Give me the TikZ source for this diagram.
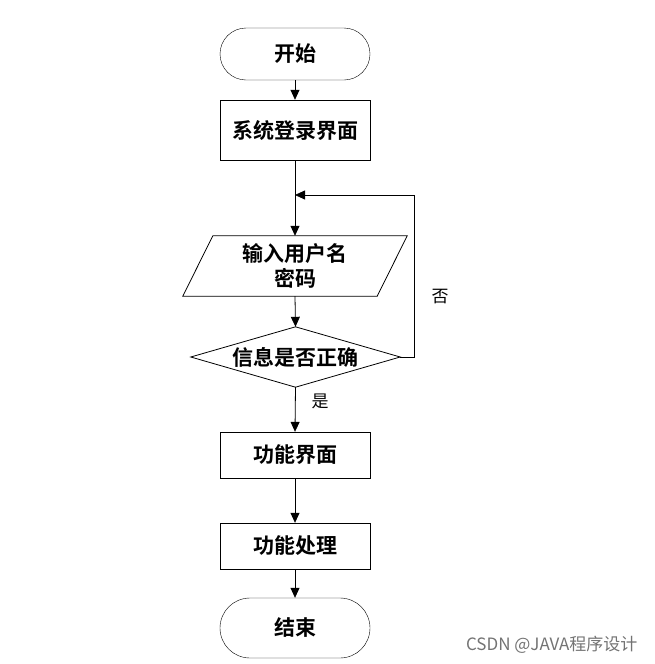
\documentclass[tikz,border=0pt]{standalone}
\usepackage{fontspec}
\setmainfont{Liberation Serif}
\newfontfamily\cjk{Noto Sans CJK SC}
\newfontfamily\cjkb{Noto Sans CJK SC Bold}
\usetikzlibrary{arrows.meta}
\begin{document}
\begin{tikzpicture}[x=1pt,y=-1pt,
  lbl/.style={font=\cjkb\fontsize{21}{25}\selectfont, align=center},
  term/.style={draw, rounded corners=26pt, minimum width=150pt, minimum height=52pt, lbl},
  proc/.style={draw, minimum width=150pt, lbl},
  line/.style={line width=0.8pt},
  arr/.style={line, -{Triangle[length=10pt,width=9pt]}},
  small/.style={font=\cjk\fontsize{17}{20}\selectfont}]
\useasboundingbox (0,0) rectangle (654,664);
\node[term] (start) at (295,54) {开始};
\node[proc, minimum height=60pt] (login) at (295,130) {系统登录界面};
\node[lbl, minimum width=194pt, minimum height=60pt, inner sep=0pt] (io) at (295,266) {输入用户名\\密码};
\draw[line] ([xshift=15pt]io.north west) -- ([xshift=15pt]io.north east) -- ([xshift=-15pt]io.south east) -- ([xshift=-15pt]io.south west) -- cycle;
\node[lbl, minimum width=209pt, minimum height=60pt, inner sep=0pt] (dia) at (295.5,357) {信息是否正确};
\draw[line] (dia.north) -- (dia.east) -- (dia.south) -- (dia.west) -- cycle;
\node[proc, minimum height=46pt] (func) at (295,455) {功能界面};
\node[proc, minimum height=46pt] (proc2) at (295,546) {功能处理};
\node[term, minimum height=60pt, rounded corners=30pt] (stop) at (295,628) {结束};
\coordinate (m) at (295,195);
\coordinate (r) at (414,195);
\draw[arr] (start) -- (login);
\draw[arr] (login.south) -- (io.north);
\draw[arr] (io.south) -- (dia.north);
\draw[arr] (dia.south) -- (func.north);
\draw[arr] (func) -- (proc2);
\draw[arr] (proc2) -- (stop);
\draw[arr] (dia.east) -- (dia.east -| r) -- (r) -- (m);
\node[small] (no) at (440,297) {否};
\node[small] (yes) at (320,401) {是};
\node[font=\cjk\fontsize{17}{20}\selectfont, text=black!55, anchor=east] (wm) at (641,645) {CSDN @JAVA程序设计};
\end{tikzpicture}
\end{document}
